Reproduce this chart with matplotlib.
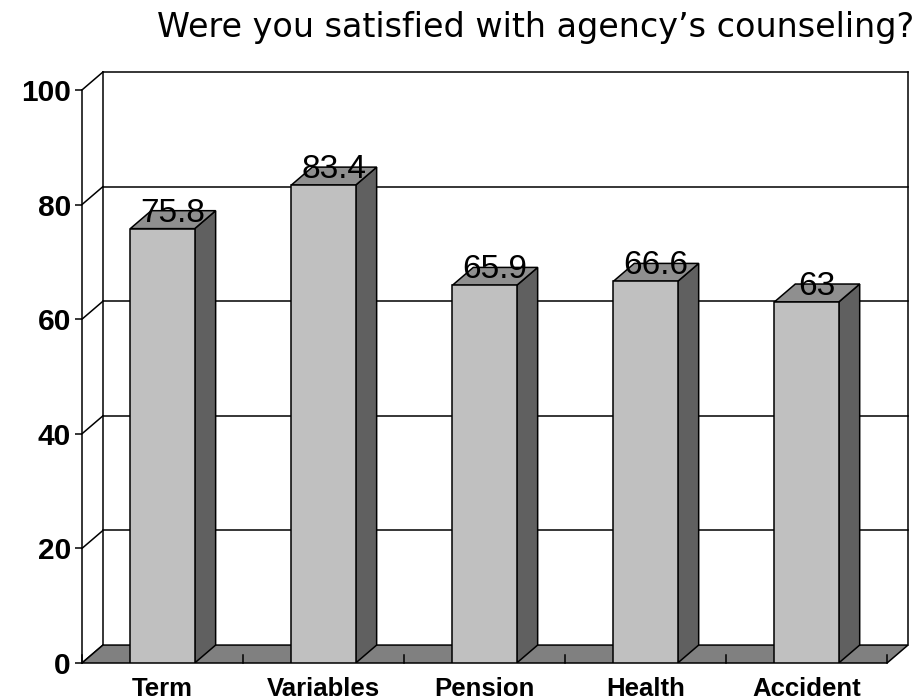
import matplotlib.pyplot as plt
from matplotlib.patches import Polygon

categories = ["Term", "Variables", "Pension", "Health", "Accident"]
values = [75.8, 83.4, 65.9, 66.6, 63]
value_labels = ["75.8", "83.4", "65.9", "66.6", "63"]
y_ticks = [0, 20, 40, 60, 80, 100]
title = "Were you satisfied with agency\u2019s counseling?"

# depth of the fake 3d box, in data units
dx = 0.13
dy = 3.13
bar_w = 0.4

front_col = "#c0c0c0"
side_col = "#606060"
top_col = "#8f8f8f"
floor_col = "#808080"
lw = 1.1

fig = plt.figure(figsize=(9.21, 7), dpi=100)
ax = fig.add_axes([82 / 921, 37 / 700, 826 / 921, 591 / 700])
ax.set_xlim(0, len(categories) + dx)
ax.set_ylim(0, 100 + dy)
n = len(categories)

# back wall and left wall lines
for v in y_ticks[1:]:
    ax.plot([dx, n + dx], [v + dy, v + dy], color="black", lw=lw, zorder=1, clip_on=False)
for v in y_ticks:
    ax.plot([0, dx], [v, v + dy], color="black", lw=lw, zorder=1, clip_on=False)
ax.plot([dx, dx], [dy, 100 + dy], color="black", lw=lw, zorder=1, clip_on=False)
ax.plot([n + dx, n + dx], [dy, 100 + dy], color="black", lw=lw, zorder=1, clip_on=False)

# floor
floor = Polygon([(0, 0), (n, 0), (n + dx, dy), (dx, dy)], closed=True,
                facecolor=floor_col, edgecolor="black", lw=lw, zorder=2, clip_on=False)
ax.add_patch(floor)
for i in range(n + 1):
    ax.plot([i, i], [0, 1.4], color="black", lw=lw, zorder=2.5, clip_on=False)

# bars
for i, v in enumerate(values):
    x0 = i + 0.5 - bar_w / 2
    x1 = x0 + bar_w
    z = 3 + i
    ax.add_patch(Polygon([(x1, 0), (x1 + dx, dy), (x1 + dx, v + dy), (x1, v)], closed=True,
                         facecolor=side_col, edgecolor="black", lw=lw, zorder=z))
    ax.add_patch(Polygon([(x0, v), (x1, v), (x1 + dx, v + dy), (x0 + dx, v + dy)], closed=True,
                         facecolor=top_col, edgecolor="black", lw=lw, zorder=z))
    ax.add_patch(Polygon([(x0, 0), (x1, 0), (x1, v), (x0, v)], closed=True,
                         facecolor=front_col, edgecolor="black", lw=lw, zorder=z))
    ax.text(i + 0.5 + dx / 2, v + dy / 2 - 0.35, value_labels[i], ha="center", va="baseline",
            fontsize=24, family="Liberation Sans", zorder=20)

for s in ["top", "right", "bottom"]:
    ax.spines[s].set_visible(False)
ax.spines["left"].set_bounds(0, 100)
ax.spines["left"].set_linewidth(lw)
ax.spines["left"].set_zorder(10)

ax.set_yticks(y_ticks)
ax.set_yticklabels([str(t) for t in y_ticks], fontsize=21.5, fontweight="bold", family="Liberation Sans")
ax.tick_params(axis="y", direction="out", length=5, width=lw, pad=3)
ax.set_xticks([i + 0.5 for i in range(n)])
ax.set_xticklabels(categories, fontsize=18.5, fontweight="bold", family="Liberation Sans")
ax.tick_params(axis="x", length=0, pad=10)

fig.text(536 / 921, 1 - 27 / 700, title, ha="center", va="center", fontsize=24, family="DejaVu Sans")

plt.savefig("out.png", dpi=100)
